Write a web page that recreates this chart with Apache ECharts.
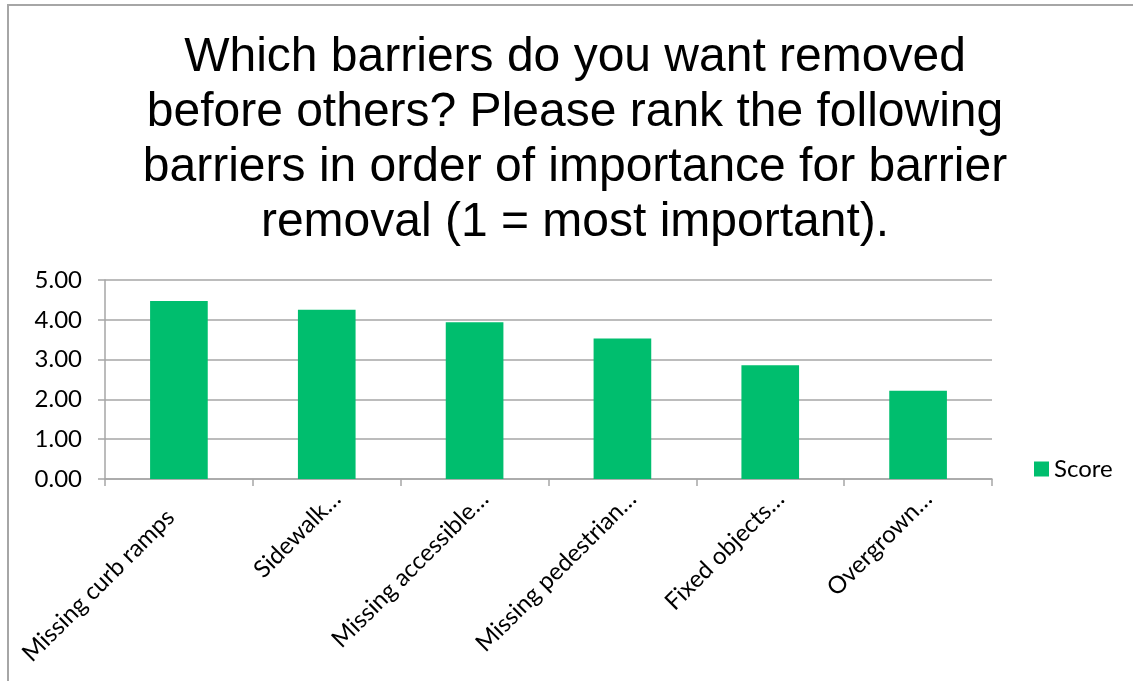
<!DOCTYPE html>
<html>
<head>
<meta charset="utf-8">
<script src="https://cdn.jsdelivr.net/npm/echarts@6/dist/echarts.min.js"></script>
<style>
html,body{margin:0;padding:0;background:#fff;}
#chart{width:1133px;height:681px;}
</style>
</head>
<body>
<div id="chart"></div>
<script>
const titleLines = [
  "Which barriers do you want removed",
  "before others? Please rank the following",
  "barriers in order of importance for barrier",
  "removal (1 = most important)."
];
const categories = [
  "Missing curb ramps",
  "Sidewalk…",
  "Missing accessible…",
  "Missing pedestrian…",
  "Fixed objects…",
  "Overgrown…"
];
const seriesName = "Score";
const scores = [4.47, 4.25, 3.94, 3.53, 2.86, 2.22];
const yMin = 0, yMax = 5, yStep = 1;

const chart = echarts.init(document.getElementById('chart'));
const labelFont = 'Lato';
chart.setOption({
  animation: false,
  backgroundColor: '#fff',
  graphic: [{
    type: 'polyline',
    shape: { points: [[8, 700], [8, 5], [1140, 5]] },
    style: { stroke: '#A6A6A6', lineWidth: 2, fill: null },
    silent: true
  }, {
    type: 'text',
    x: 575,
    y: 30,
    silent: true,
    style: {
      text: titleLines.join('\n'),
      align: 'center',
      verticalAlign: 'top',
      fontFamily: 'Liberation Sans',
      fontSize: 48,
      lineHeight: 55,
      fill: '#000'
    }
  }],
  legend: {
    data: [seriesName],
    left: 1034,
    top: 457,
    padding: 0,
    itemWidth: 15,
    itemHeight: 15,
    itemGap: 6,
    icon: 'rect',
    textStyle: { fontFamily: labelFont, fontSize: 24, color: '#000' }
  },
  grid: { left: 105, right: 141, top: 280, bottom: 202, containLabel: false },
  xAxis: {
    type: 'category',
    data: categories,
    axisLine: { lineStyle: { color: '#A6A6A6', width: 1.5 } },
    axisTick: { show: true, alignWithLabel: false, length: 7, lineStyle: { color: '#A6A6A6', width: 1.5 } },
    axisLabel: {
      rotate: 45,
      interval: 0,
      margin: 26,
      padding: [0, -14, 0, 0],
      fontFamily: labelFont,
      fontSize: 24,
      color: '#000',
      formatter: (v) => v.endsWith('…') ? v : '{full|' + v + '}',
      rich: {
        full: { fontFamily: labelFont, fontSize: 24, color: '#000', padding: [0, 26, 0, 0] }
      }
    }
  },
  yAxis: {
    type: 'value',
    min: yMin,
    max: yMax,
    interval: yStep,
    axisLine: { show: true, lineStyle: { color: '#A6A6A6', width: 1.5 } },
    axisTick: { show: true, length: 7, lineStyle: { color: '#A6A6A6', width: 1.5 } },
    splitLine: { lineStyle: { color: '#A6A6A6', width: 1.5 } },
    axisLabel: {
      margin: 23,
      fontFamily: labelFont,
      fontSize: 24,
      color: '#000',
      formatter: v => v.toFixed(2)
    }
  },
  series: [{
    name: seriesName,
    type: 'bar',
    data: scores,
    barWidth: '39%',
    itemStyle: { color: '#00BE6E' }
  }]
});
</script>
</body>
</html>
